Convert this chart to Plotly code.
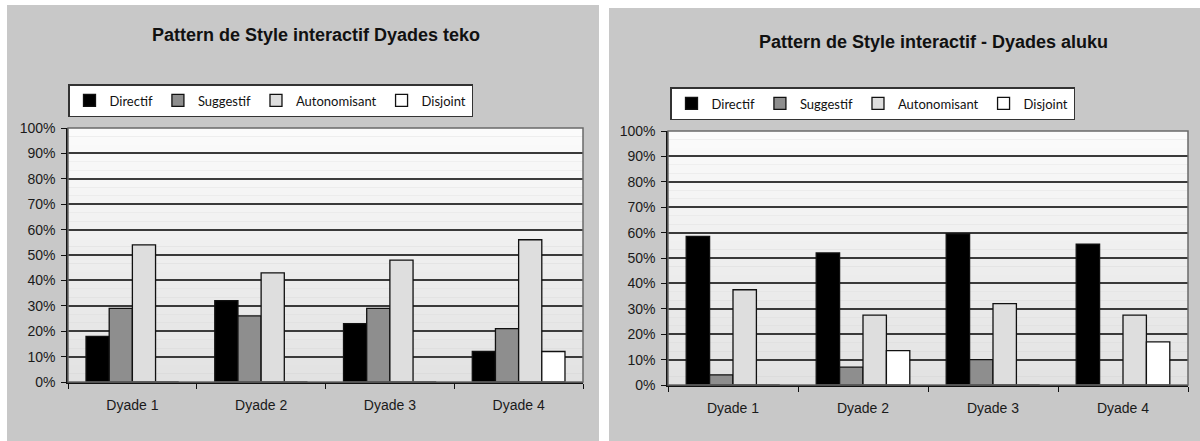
import plotly.graph_objects as go

categories = ["Dyade 1", "Dyade 2", "Dyade 3", "Dyade 4"]
series_names = ["Directif", "Suggestif", "Autonomisant", "Disjoint"]

teko_directif = [18, 32, 23, 12]
teko_suggestif = [29, 26, 29, 21]
teko_autonomisant = [54, 43, 48, 56]
teko_disjoint = [0, 0, 0, 12]

aluku_directif = [58.5, 52, 59.5, 55.5]
aluku_suggestif = [4, 7, 10, 0]
aluku_autonomisant = [37.5, 27.5, 32, 27.5]
aluku_disjoint = [0, 13.5, 0, 17]

title_left = "Pattern de Style interactif Dyades teko"
title_right = "Pattern de Style interactif - Dyades aluku"

y_ticks = list(range(0, 101, 10))
y_ticklabels = [f"{v}%" for v in y_ticks]

colors = ["#000000", "#8e8e8e", "#dedede", "#ffffff"]

W, H = 1200, 441
def px(x):
    return x / W
def py(y):
    return 1 - y / H

fig = go.Figure()

teko = [teko_directif, teko_suggestif, teko_autonomisant, teko_disjoint]
aluku = [aluku_directif, aluku_suggestif, aluku_autonomisant, aluku_disjoint]

for name, vals, col in zip(series_names, teko, colors):
    fig.add_trace(go.Bar(x=categories, y=vals, name=name, marker=dict(color=col, line=dict(color="#111111", width=1.3)),
                         xaxis="x", yaxis="y", legend="legend"))
for name, vals, col in zip(series_names, aluku, colors):
    fig.add_trace(go.Bar(x=categories, y=vals, name=name, marker=dict(color=col, line=dict(color="#111111", width=1.3)),
                         xaxis="x2", yaxis="y2", legend="legend2"))

font_axis = dict(family="Liberation Sans, Arial, sans-serif", size=14, color="#1a1a1a")
legend_font = dict(family="Lato, Open Sans, sans-serif", size=13, color="#111111")

axis_common = dict(showgrid=False, showline=True, linecolor="#111111", linewidth=1.5, automargin=False,
                   ticks="outside", tickcolor="#111111", ticklen=5, tickfont=font_axis, fixedrange=True,
                   ticklabelstandoff=9)
yaxis_common = dict(range=[0, 100], tickvals=y_ticks, ticktext=y_ticklabels, showgrid=True, automargin=False,
                    gridcolor="#3a3a3a", gridwidth=1.7, showline=True, linecolor="#111111", linewidth=1.5,
                    ticks="outside", tickcolor="#111111", ticklen=5, tickfont=font_axis, zeroline=False,
                    ticklabelstandoff=3)

shapes = []
# panel backgrounds
shapes.append(dict(type="rect", xref="paper", yref="paper", x0=px(7), x1=px(599), y0=0, y1=py(5),
                   fillcolor="#c8c8c8", line=dict(width=0), layer="below"))
shapes.append(dict(type="rect", xref="paper", yref="paper", x0=px(609), x1=1, y0=0, y1=py(8),
                   fillcolor="#c8c8c8", line=dict(width=0), layer="below"))
# gradient bands in plot areas
nb = 30
top_c, bot_c = 251, 226
for ax in ["", "2"]:
    for i in range(nb):
        t = (i + 0.5) / nb
        c = int(round(bot_c + (top_c - bot_c) * t))
        shapes.append(dict(type="rect", xref=f"x{ax} domain", yref=f"y{ax} domain",
                           x0=0, x1=1, y0=i / nb, y1=(i + 1) / nb,
                           fillcolor=f"rgb({c},{c},{c})", line=dict(width=0), layer="below"))
    shapes.append(dict(type="rect", xref=f"x{ax} domain", yref=f"y{ax} domain", x0=0, x1=1, y0=0, y1=1,
                       fillcolor="rgba(0,0,0,0)", line=dict(color="#6a6a6a", width=1.5), layer="above"))

fig.update_layout(
    width=W, height=H,
    margin=dict(l=0, r=0, t=0, b=0, pad=0, autoexpand=False),
    paper_bgcolor="#ffffff",
    plot_bgcolor="#f0f0f0",
    barmode="group",
    bargap=0.28,
    bargroupgap=0,
    showlegend=True,
    xaxis=dict(domain=[px(68), px(583)], anchor="y", tickson="boundaries", **axis_common),
    yaxis=dict(domain=[py(382), py(128)], anchor="x", **yaxis_common),
    xaxis2=dict(domain=[px(668), px(1188)], anchor="y2", tickson="boundaries", **axis_common),
    yaxis2=dict(domain=[py(385), py(131)], anchor="x2", **yaxis_common),
    legend=dict(orientation="h", x=px(68), y=py(84), xanchor="left", yanchor="top",
                bgcolor="#ffffff", bordercolor="#333333", borderwidth=1.5, font=legend_font,
                itemwidth=30, traceorder="normal"),
    legend2=dict(orientation="h", x=px(670), y=py(87), xanchor="left", yanchor="top",
                 bgcolor="#ffffff", bordercolor="#333333", borderwidth=1.5, font=legend_font,
                 itemwidth=30, traceorder="normal"),
    shapes=shapes,
    annotations=[
        dict(text=f"<b>{title_left}</b>", xref="paper", yref="paper", x=px(316), y=py(35),
             xanchor="center", yanchor="middle", showarrow=False,
             font=dict(family="Liberation Sans, Arial, sans-serif", size=18, color="#111111")),
        dict(text=f"<b>{title_right}</b>", xref="paper", yref="paper", x=px(933), y=py(42),
             xanchor="center", yanchor="middle", showarrow=False,
             font=dict(family="Liberation Sans, Arial, sans-serif", size=18, color="#111111")),
    ],
)

fig.write_html("out.html", config={"displayModeBar": False},
               post_script="document.body.style.margin='0';document.body.style.overflow='hidden';")
